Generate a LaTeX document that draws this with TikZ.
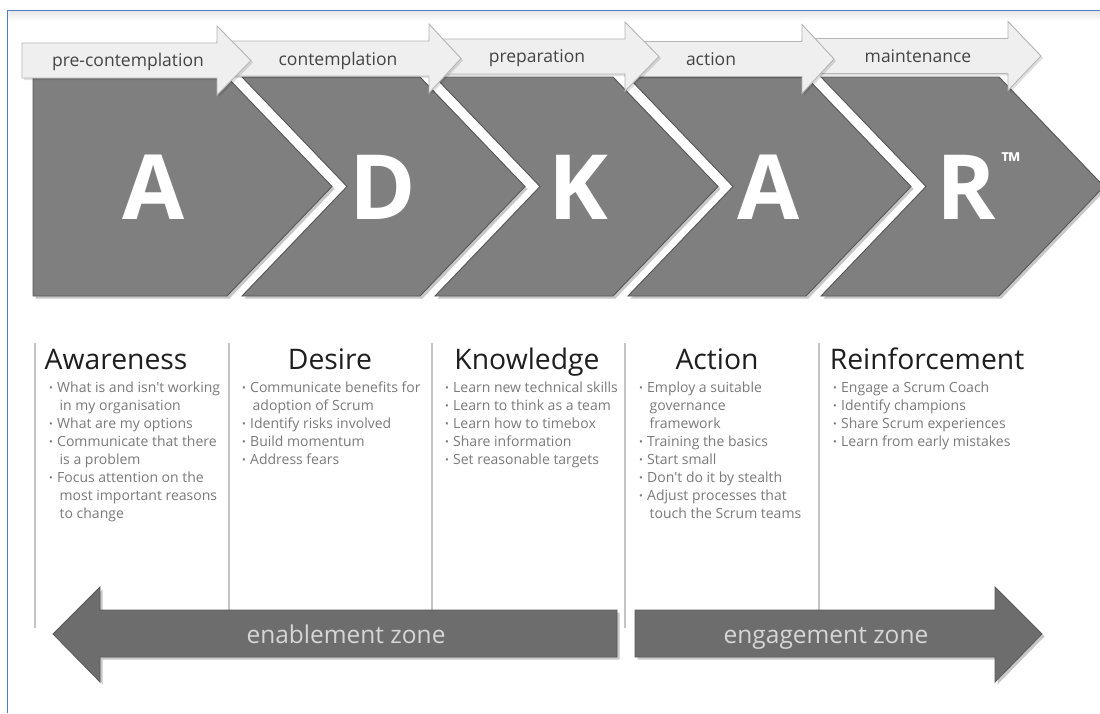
\documentclass[tikz,border=0pt]{standalone}
\usepackage{fontspec}
\setmainfont{Open Sans}
\newfontfamily\uifont{Open Sans}
\definecolor{chev}{HTML}{7F7F7F}
\definecolor{chevline}{HTML}{575757}
\definecolor{toparr}{HTML}{EFEFEF}
\definecolor{toparrline}{HTML}{B5B5B5}
\definecolor{botarr}{HTML}{6D6D6D}
\definecolor{botarrline}{HTML}{5A5A5A}
\definecolor{bultxt}{HTML}{7A7A7A}
\definecolor{headtxt}{HTML}{1E1E1E}
\definecolor{toptxt}{HTML}{444444}
\definecolor{zonetxt}{HTML}{D6D6D6}
\definecolor{frameblue}{HTML}{4A7EC7}
\definecolor{sepline}{HTML}{C4C4C4}
\newcommand\chevA{(33,77) -- (227,77) -- (332,186.5) -- (227,296) -- (33,296) -- cycle}
\newcommand\chevD{(242,77) -- (420,77) -- (525,186.5) -- (420,296) -- (242,296) -- (347,186.5) -- cycle}
\newcommand\chevK{(435,77) -- (613,77) -- (718,186.5) -- (613,296) -- (435,296) -- (540,186.5) -- cycle}
\newcommand\chevAb{(628,77) -- (806,77) -- (911,186.5) -- (806,296) -- (628,296) -- (733,186.5) -- cycle}
\newcommand\chevR{(821,77) -- (999,77) -- (1104,186.5) -- (999,296) -- (821,296) -- (926,186.5) -- cycle}
\newcommand\toparrowpath[4]{(#1,#4-17.5) -- (#2,#4-17.5) -- (#2,#4-34.5) -- (#3,#4) -- (#2,#4+34.5) -- (#2,#4+17.5) -- (#1,#4+17.5) -- cycle}
\newcommand\blt{\makebox[8pt][l]{\raisebox{0.8pt}{\fontsize{10}{10}\selectfont\textbullet}}}
\newcommand\cnt{\hspace{10.5pt}}
\newcommand\fst{\rule{0pt}{11pt}}
\begin{document}
\begin{tikzpicture}[x=1pt,y=-1pt,
  chevron/.style={fill=chev,draw=chevline,line width=0.9pt,line join=miter},
  chshadow/.style={fill=black,opacity=0.22},
  toparrow/.style={fill=toparr,draw=toparrline,line width=0.9pt},
  tashadow/.style={fill=black,opacity=0.12},
  botarrow/.style={fill=botarr,draw=botarrline,line width=0.8pt},
  letter/.style={font=\fontsize{90}{90}\selectfont\bfseries,text=white,anchor=base,inner sep=0pt},
  steplabel/.style={font=\uifont\fontsize{17.5}{20}\selectfont,text=toptxt,anchor=base,inner sep=0pt},
  colhead/.style={font=\uifont\fontsize{28.3}{32}\selectfont,text=headtxt,anchor=base,inner sep=0pt},
  bullets/.style={font=\uifont\fontsize{14}{18}\selectfont,text=bultxt,anchor=north west,align=left,inner sep=0pt},
  zonelabel/.style={font=\uifont\fontsize{24.5}{28}\selectfont,text=zonetxt,anchor=base,inner sep=0pt},
  sep/.style={draw=sepline,line width=1.4pt}]
\useasboundingbox (0,0) rectangle (1100,713);
\fill[white] (0,0) rectangle (1100,713);
% frame
\shade[top color=black!9,bottom color=white] (8.5,11.5) rectangle (1100,21);
\draw[frameblue,line width=1.5pt] (7.5,713) -- (7.5,10.5) -- (1100,10.5);
% chevrons
\foreach \c in {\chevA,\chevD,\chevK,\chevAb,\chevR}{
  \fill[chshadow,shift={(2.5,2.5)}] \c;
  \filldraw[chevron] \c;
}
\node[letter] (la) at (154,219) {A};
\node[letter] (ld) at (383,219) {D};
\node[letter] (lk) at (578,219) {K};
\node[letter] (la2) at (769,219) {A};
\node[letter] (lr) at (966,219) {R};
\node[font=\fontsize{25}{25}\selectfont\bfseries,text=white,inner sep=0pt] (tm) at (1011,162) {™};
% top arrows (later ones below)
\fill[tashadow,shift={(2,2)}] \toparrowpath{802}{1008}{1041}{56};
\filldraw[toparrow] \toparrowpath{802}{1008}{1041}{56};
\fill[tashadow,shift={(2,2)}] \toparrowpath{625}{802}{834}{59};
\filldraw[toparrow] \toparrowpath{625}{802}{834}{59};
\fill[tashadow,shift={(2,2)}] \toparrowpath{429}{625}{659}{56.5};
\filldraw[toparrow] \toparrowpath{429}{625}{659}{56.5};
\fill[tashadow,shift={(2,2)}] \toparrowpath{217}{429}{461}{58.5};
\filldraw[toparrow] \toparrowpath{217}{429}{461}{58.5};
\fill[tashadow,shift={(2,2)}] \toparrowpath{22}{217}{251}{60.5};
\filldraw[toparrow] \toparrowpath{22}{217}{251}{60.5};
\node[steplabel] (s1) at (128,66) {pre-contemplation};
\node[steplabel] (s2) at (338,65) {contemplation};
\node[steplabel] (s3) at (537,62.5) {preparation};
\node[steplabel] (s4) at (711,65) {action};
\node[steplabel] (s5) at (918,62.5) {maintenance};
% separators
\foreach \x in {35,229,432,625,819}{
  \draw[sep] (\x,343) -- (\x,628);
}
% headings
\node[colhead] (h1) at (116,369) {Awareness};
\node[colhead] (h2) at (330,369) {Desire};
\node[colhead] (h3) at (527,369) {Knowledge};
\node[colhead] (h4) at (717,369) {Action};
\node[colhead] (h5) at (927,369) {Reinforcement};
% bullets
\node[bullets] (b1) at (49,381) {\fst\blt What is and isn't working\\\cnt in my organisation\\\blt What are my options\\\blt Communicate that there\\\cnt is a problem\\\blt Focus attention on the\\\cnt most important reasons\\\cnt to change};
\node[bullets] (b2) at (242,381) {\fst\blt Communicate benefits for\\\cnt adoption of Scrum\\\blt Identify risks involved\\\blt Build momentum\\\blt Address fears};
\node[bullets] (b3) at (445,381) {\fst\blt Learn new technical skills\\\blt Learn to think as a team\\\blt Learn how to timebox\\\blt Share information\\\blt Set reasonable targets};
\node[bullets] (b4) at (639,381) {\fst\blt Employ a suitable\\\cnt governance\\\cnt framework\\\blt Training the basics\\\blt Start small\\\blt Don't do it by stealth\\\blt Adjust processes that\\\cnt touch the Scrum teams};
\node[bullets] (b5) at (833,381) {\fst\blt Engage a Scrum Coach\\\blt Identify champions\\\blt Share Scrum experiences\\\blt Learn from early mistakes};
% bottom arrows
\fill[chshadow,shift={(2.5,2.5)}] (53,634) -- (100,587) -- (100,610) -- (617,610) -- (617,657) -- (100,657) -- (100,682) -- cycle;
\filldraw[botarrow] (53,634) -- (100,587) -- (100,610) -- (617,610) -- (617,657) -- (100,657) -- (100,682) -- cycle;
\fill[chshadow,shift={(2.5,2.5)}] (635,610) -- (995,610) -- (995,587) -- (1042,634) -- (995,682) -- (995,657) -- (635,657) -- cycle;
\filldraw[botarrow] (635,610) -- (995,610) -- (995,587) -- (1042,634) -- (995,682) -- (995,657) -- (635,657) -- cycle;
\node[zonelabel] (z1) at (346,643) {enablement zone};
\node[zonelabel] (z2) at (826,643) {engagement zone};
\end{tikzpicture}
\end{document}
